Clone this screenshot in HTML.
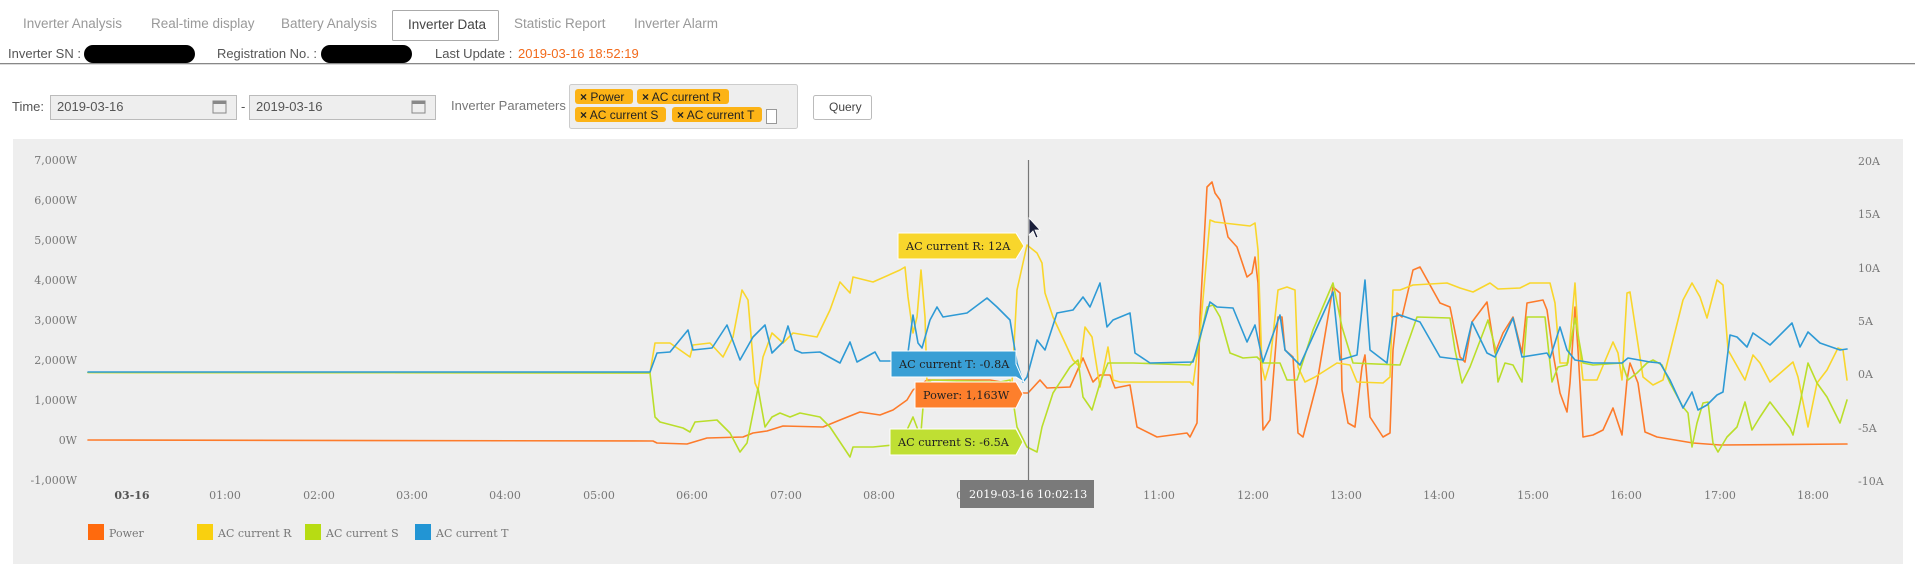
<!DOCTYPE html>
<html><head><meta charset="utf-8"><style>
html,body{margin:0;padding:0;background:#fff;width:1915px;height:564px;overflow:hidden}
svg{display:block}
.nav{font-family:"Liberation Sans",sans-serif;font-size:13.5px;fill:#999}
.f{font-family:"Liberation Sans",sans-serif;font-size:13px;fill:#555}
.ax{font-family:"DejaVu Serif","Liberation Serif",serif;font-size:11px;fill:#777}
.tt{font-family:"DejaVu Serif","Liberation Serif",serif;font-size:11.2px;fill:#222}
.tag{font-family:"Liberation Sans",sans-serif;font-size:12px;fill:#222}
polyline{fill:none;stroke-width:1.6;stroke-linejoin:round;stroke-linecap:round}
</style></head><body>
<svg width="1915" height="564" viewBox="0 0 1915 564">
<!-- nav -->
<text class="nav" x="23" y="28">Inverter Analysis</text>
<text class="nav" x="151" y="28">Real-time display</text>
<text class="nav" x="281" y="28">Battery Analysis</text>
<rect x="392.5" y="10.5" width="106" height="30" fill="#fff" stroke="#aaa" rx="1"/>
<text class="nav" x="408" y="29" style="fill:#444">Inverter Data</text>
<text class="nav" x="514" y="28">Statistic Report</text>
<text class="nav" x="634" y="28">Inverter Alarm</text>
<text class="f" x="8" y="58">Inverter SN :</text>
<rect x="84" y="45" width="111" height="18" rx="9" fill="#000"/>
<text class="f" x="217" y="58" textLength="100" lengthAdjust="spacingAndGlyphs">Registration No. :</text>
<rect x="321" y="45" width="91" height="18" rx="9" fill="#000"/>
<text class="f" x="435" y="58">Last Update :</text>
<text class="f" x="518" y="58" style="fill:#f26a1b">2019-03-16 18:52:19</text>
<rect x="0" y="63" width="1915" height="1.3" fill="#888"/>
<!-- form -->
<text class="f" x="12" y="111">Time:</text>
<rect x="50.5" y="95.5" width="186" height="24" fill="#eee" stroke="#bbb"/>
<text class="f" x="57" y="111" style="fill:#555">2019-03-16</text>
<rect x="213" y="101" width="13" height="12" fill="none" stroke="#888"/><rect x="213" y="101" width="13" height="3" fill="#888"/>
<text class="f" x="241" y="111">-</text>
<rect x="249.5" y="95.5" width="186" height="24" fill="#eee" stroke="#bbb"/>
<text class="f" x="256" y="111" style="fill:#555">2019-03-16</text>
<rect x="412" y="101" width="13" height="12" fill="none" stroke="#888"/><rect x="412" y="101" width="13" height="3" fill="#888"/>
<text class="f" x="451" y="110" style="fill:#777">Inverter Parameters</text>
<rect x="569.5" y="84.5" width="228" height="44" fill="#eee" stroke="#ccc" rx="2"/>
<rect x="575" y="89" width="58" height="15" rx="3" fill="#fcb316"/><text class="tag" x="580" y="101"><tspan font-weight="bold">×</tspan> Power</text>
<rect x="637" y="89" width="92" height="15" rx="3" fill="#fcb316"/><text class="tag" x="642" y="101"><tspan font-weight="bold">×</tspan> AC current R</text>
<rect x="575" y="107" width="91" height="15" rx="3" fill="#fcb316"/><text class="tag" x="580" y="119"><tspan font-weight="bold">×</tspan> AC current S</text>
<rect x="672" y="107" width="90" height="15" rx="3" fill="#fcb316"/><text class="tag" x="677" y="119"><tspan font-weight="bold">×</tspan> AC current T</text>
<rect x="766.5" y="109.5" width="10" height="14" fill="#fff" stroke="#999"/>
<rect x="813.5" y="95.5" width="58" height="24" fill="#fff" stroke="#bbb" rx="2"/>
<text class="f" x="829" y="111" style="fill:#444;font-size:12px">Query</text>
<!-- chart bg -->
<rect x="13" y="139" width="1890" height="425" fill="#eeeeee"/>
<!-- left axis -->
<g class="ax" text-anchor="end">
<text x="77" y="164">7,000W</text><text x="77" y="204">6,000W</text><text x="77" y="244">5,000W</text>
<text x="77" y="284">4,000W</text><text x="77" y="324">3,000W</text><text x="77" y="364">2,000W</text>
<text x="77" y="404">1,000W</text><text x="77" y="444">0W</text><text x="77" y="484">-1,000W</text>
</g>
<g class="ax">
<text x="1858" y="165">20A</text><text x="1858" y="218">15A</text><text x="1858" y="272">10A</text>
<text x="1858" y="325">5A</text><text x="1858" y="378">0A</text><text x="1858" y="432">-5A</text><text x="1858" y="485">-10A</text>
</g>
<g class="ax" text-anchor="middle">
<text x="132" y="499" style="font-weight:bold;fill:#555">03-16</text>
<text x="225" y="499">01:00</text><text x="319" y="499">02:00</text><text x="412" y="499">03:00</text>
<text x="505" y="499">04:00</text><text x="599" y="499">05:00</text><text x="692" y="499">06:00</text>
<text x="786" y="499">07:00</text><text x="879" y="499">08:00</text><text x="972" y="499">09:00</text>
<text x="1159" y="499">11:00</text><text x="1253" y="499">12:00</text><text x="1346" y="499">13:00</text>
<text x="1439" y="499">14:00</text><text x="1533" y="499">15:00</text><text x="1626" y="499">16:00</text>
<text x="1720" y="499">17:00</text><text x="1813" y="499">18:00</text>
</g>
<!-- series -->
<polyline stroke="#fd7b2b" points="88,440 653,441 657,443 687,444 707,438 743,437 753,433 767,431 783,426 823,427 840,420 860,412 880,415 893,410 907,400 913,390 927,380 967,380 990,380 1007,383 1020,393 1028,393 1040,380 1047,388 1070,387 1083,358 1093,382 1100,375 1110,375 1115,388 1130,385 1137,427 1157,437 1187,433 1190,437 1197,423 1200,317 1207,187 1212,182 1215,193 1220,200 1228,237 1237,247 1247,277 1252,273 1255,257 1258,283 1263,430 1270,420 1278,317 1282,317 1285,350 1293,357 1298,433 1303,437 1317,383 1333,287 1340,293 1342,390 1348,423 1355,427 1362,367 1365,355 1370,417 1383,437 1390,433 1393,350 1397,313 1402,317 1413,270 1420,267 1440,303 1450,307 1460,357 1465,362 1472,322 1487,302 1495,353 1503,333 1513,317 1522,353 1527,303 1543,300 1547,310 1553,353 1560,393 1567,412 1570,383 1575,307 1578,350 1583,437 1593,435 1603,430 1613,408 1622,435 1627,380 1630,363 1638,383 1645,432 1657,437 1693,443 1720,445 1847,444"/>
<polyline stroke="#f9d62b" points="88,372.5 650,373 655,343 670,343 680,350 690,357 693,345 710,343 723,357 733,337 742,290 748,300 755,383 758,390 763,357 772,333 783,343 793,333 817,337 830,310 840,282 850,293 853,277 873,282 900,270 905,267 908,297 913,333 917,317 921,270 925,317 927,383 935,400 1000,398 1012,383 1017,290 1027,245 1037,253 1042,263 1045,293 1053,317 1073,360 1080,367 1085,327 1092,337 1100,387 1108,347 1113,380 1120,382 1190,382 1193,385 1200,333 1210,220 1215,222 1250,226 1255,223 1258,250 1262,367 1265,380 1270,363 1278,290 1287,287 1295,290 1298,367 1305,382 1315,377 1337,363 1350,365 1357,382 1383,383 1390,377 1393,290 1400,290 1413,285 1447,283 1460,288 1473,292 1490,283 1498,289 1520,288 1530,283 1550,283 1555,303 1560,363 1568,363 1575,283 1578,333 1583,380 1597,380 1613,342 1618,353 1622,380 1627,293 1630,292 1643,377 1653,385 1663,380 1683,300 1692,283 1700,297 1707,318 1717,280 1723,285 1728,350 1745,380 1753,355 1760,363 1770,382 1793,362 1798,377 1808,427 1817,383 1827,370 1838,348 1843,350 1847,380"/>
<polyline stroke="#bade2a" points="88,372.5 650,373 655,417 660,422 683,428 690,432 695,422 717,420 730,433 740,452 747,443 758,388 765,427 772,417 780,413 790,417 800,413 820,417 830,427 850,457 853,447 873,447 893,445 907,430 913,417 918,430 921,432 925,383 932,380 1000,382 1010,380 1017,427 1027,447 1037,452 1042,427 1053,393 1070,367 1078,360 1083,397 1092,410 1100,383 1108,363 1133,363 1190,365 1197,353 1207,307 1213,305 1220,317 1230,353 1243,358 1257,357 1263,363 1280,363 1287,380 1297,380 1313,330 1333,283 1342,327 1353,363 1400,365 1410,337 1417,317 1450,318 1455,350 1462,383 1470,367 1488,320 1495,347 1498,382 1505,363 1513,365 1522,382 1527,317 1545,317 1552,382 1558,367 1567,365 1575,318 1583,363 1593,365 1622,363 1628,380 1637,373 1647,363 1653,360 1662,365 1670,383 1683,407 1688,413 1692,447 1697,423 1703,403 1708,402 1713,443 1718,452 1727,437 1737,427 1745,402 1752,430 1760,417 1770,402 1790,428 1793,435 1800,403 1808,363 1817,383 1827,397 1840,423 1847,400"/>
<polyline stroke="#2e9ad5" points="88,372 650,372 657,353 670,352 688,330 693,350 712,348 727,325 740,360 753,337 765,325 772,353 783,342 788,326 795,350 802,353 820,352 840,363 850,342 857,362 875,352 880,361 893,361 907,360 913,315 918,343 922,348 930,320 937,307 943,317 967,313 987,298 997,307 1010,320 1017,363 1023,382 1027,377 1037,340 1045,350 1057,313 1073,310 1083,297 1090,307 1100,283 1107,327 1113,320 1130,313 1135,353 1150,363 1193,362 1200,337 1210,302 1217,307 1233,308 1247,342 1255,325 1263,362 1280,315 1285,350 1300,365 1333,292 1340,360 1357,355 1365,280 1370,350 1387,363 1393,317 1400,315 1420,322 1440,357 1463,360 1472,322 1487,353 1495,357 1513,318 1522,357 1547,353 1550,358 1560,327 1567,350 1575,360 1593,363 1622,363 1628,358 1650,362 1660,363 1670,380 1683,408 1692,392 1698,410 1707,405 1717,395 1723,392 1730,335 1737,337 1747,347 1753,333 1770,345 1792,323 1800,347 1808,332 1820,343 1840,350 1847,349"/>
<!-- crosshair -->
<line x1="1028.5" y1="160" x2="1028.5" y2="481" stroke="#777" stroke-width="1.2"/>
<path d="M1029,218 l0,17 l4,-4 l3,7 l2,-1 l-3,-7 l5,0 z" fill="#1a1f3a" stroke="#fff" stroke-width="0.8"/>
<!-- tooltips -->
<g>
<path d="M898,233 H1016 L1024,246 L1016,259 H898 Z" fill="#f8d62c" stroke="#fff"/>
<text class="tt" x="906" y="250">AC current R: 12A</text>
<path d="M891,351 H1016 V364 L1024,382 L1016,377 H891 Z" fill="#399fd5" stroke="#fff"/>
<text class="tt" x="899" y="368">AC current T: -0.8A</text>
<path d="M915,382 H1016 L1023,394 L1016,408 H915 Z" fill="#fd7f2c" stroke="#fff"/>
<text class="tt" x="923" y="399">Power: 1,163W</text>
<path d="M890,429 H1016 L1023,442 L1016,455 H890 Z" fill="#bfdf33" stroke="#fff"/>
<text class="tt" x="898" y="446">AC current S: -6.5A</text>
<rect x="960" y="480" width="134" height="28" fill="#7a7a7a"/>
<text class="tt" x="969" y="498" style="fill:#fff">2019-03-16 10:02:13</text>
</g>
<!-- legend -->
<rect x="88" y="524" width="16" height="16" fill="#ff6a0d"/><text class="ax" x="109" y="537">Power</text>
<rect x="197" y="524" width="16" height="16" fill="#f9d00f"/><text class="ax" x="218" y="537">AC current R</text>
<rect x="305" y="524" width="16" height="16" fill="#b7dc13"/><text class="ax" x="326" y="537">AC current S</text>
<rect x="415" y="524" width="16" height="16" fill="#2295d4"/><text class="ax" x="436" y="537">AC current T</text>
</svg>
</body></html>
